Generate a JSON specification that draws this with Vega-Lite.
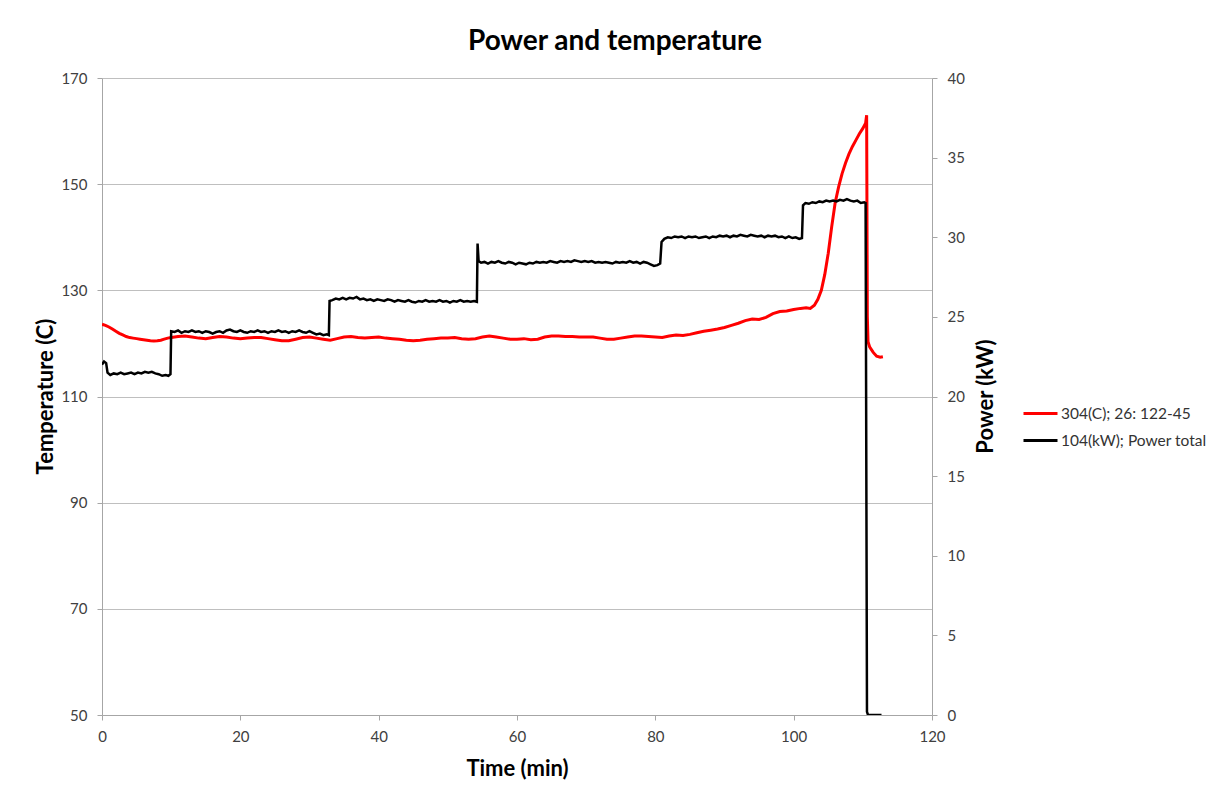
{
  "$schema": "https://vega.github.io/schema/vega-lite/v6.json",
  "width": 830,
  "height": 637,
  "autosize": {"type": "none"},
  "padding": {"left": 102, "top": 78, "right": 285, "bottom": 76},
  "background": "white",
  "config": {
    "view": {"stroke": null},
    "font": "Lato",
    "axis": {"labelFont": "Lato", "titleFont": "Lato", "labelFlush": false},
    "legend": {"labelFont": "Lato"}
  },
  "title": {
    "text": "Power and temperature",
    "font": "Lato",
    "fontSize": 28,
    "fontWeight": "bold",
    "color": "#000000",
    "anchor": "middle",
    "dx": 98,
    "offset": 15
  },
  "datasets": {
    "temp": [
      {"t": 0, "v": 123.6}, {"t": 0.5, "v": 123.4}, {"t": 1, "v": 123.1}, {"t": 1.5, "v": 122.7}, {"t": 2, "v": 122.3},
      {"t": 2.5, "v": 121.9}, {"t": 3, "v": 121.6}, {"t": 3.5, "v": 121.3}, {"t": 4, "v": 121.1}, {"t": 4.5, "v": 121.0},
      {"t": 5, "v": 120.9}, {"t": 5.5, "v": 120.8}, {"t": 6, "v": 120.7}, {"t": 6.5, "v": 120.6}, {"t": 7, "v": 120.5},
      {"t": 7.5, "v": 120.45}, {"t": 8, "v": 120.5}, {"t": 8.5, "v": 120.6}, {"t": 9, "v": 120.8}, {"t": 9.5, "v": 121.0},
      {"t": 10, "v": 121.1}, {"t": 11, "v": 121.3}, {"t": 12, "v": 121.4}, {"t": 13, "v": 121.2}, {"t": 14, "v": 121.0},
      {"t": 15, "v": 120.9}, {"t": 16, "v": 121.1}, {"t": 17, "v": 121.3}, {"t": 18, "v": 121.2}, {"t": 19, "v": 121.0},
      {"t": 20, "v": 120.9}, {"t": 21, "v": 121.0}, {"t": 22, "v": 121.1}, {"t": 23, "v": 121.1}, {"t": 24, "v": 120.9},
      {"t": 25, "v": 120.7}, {"t": 26, "v": 120.5}, {"t": 27, "v": 120.5}, {"t": 28, "v": 120.8}, {"t": 29, "v": 121.1},
      {"t": 30, "v": 121.2}, {"t": 31, "v": 121.0}, {"t": 32, "v": 120.8}, {"t": 33, "v": 120.6}, {"t": 34, "v": 120.9},
      {"t": 35, "v": 121.2}, {"t": 36, "v": 121.3}, {"t": 37, "v": 121.1}, {"t": 38, "v": 121.0}, {"t": 39, "v": 121.1},
      {"t": 40, "v": 121.2}, {"t": 41, "v": 121.0}, {"t": 42, "v": 120.9}, {"t": 43, "v": 120.8}, {"t": 44, "v": 120.6},
      {"t": 45, "v": 120.5}, {"t": 46, "v": 120.6}, {"t": 47, "v": 120.8}, {"t": 48, "v": 120.9}, {"t": 49, "v": 121.0},
      {"t": 50, "v": 121.0}, {"t": 51, "v": 121.1}, {"t": 52, "v": 120.9}, {"t": 53, "v": 120.8}, {"t": 54, "v": 120.9},
      {"t": 55, "v": 121.2}, {"t": 56, "v": 121.4}, {"t": 57, "v": 121.2}, {"t": 58, "v": 121.0}, {"t": 59, "v": 120.8},
      {"t": 60, "v": 120.8}, {"t": 61, "v": 120.9}, {"t": 62, "v": 120.7}, {"t": 63, "v": 120.8}, {"t": 64, "v": 121.2},
      {"t": 65, "v": 121.4}, {"t": 66, "v": 121.4}, {"t": 67, "v": 121.3}, {"t": 68, "v": 121.3}, {"t": 69, "v": 121.2},
      {"t": 70, "v": 121.2}, {"t": 71, "v": 121.2}, {"t": 72, "v": 121.0}, {"t": 73, "v": 120.8}, {"t": 74, "v": 120.8},
      {"t": 75, "v": 121.0}, {"t": 76, "v": 121.2}, {"t": 77, "v": 121.4}, {"t": 78, "v": 121.4}, {"t": 79, "v": 121.3},
      {"t": 80, "v": 121.2}, {"t": 81, "v": 121.1}, {"t": 82, "v": 121.4}, {"t": 83, "v": 121.6}, {"t": 84, "v": 121.5},
      {"t": 85, "v": 121.7}, {"t": 86, "v": 122.0}, {"t": 87, "v": 122.3}, {"t": 88, "v": 122.5}, {"t": 89, "v": 122.7},
      {"t": 90, "v": 123.0}, {"t": 91, "v": 123.4}, {"t": 92, "v": 123.8}, {"t": 93, "v": 124.3}, {"t": 94, "v": 124.6},
      {"t": 95, "v": 124.5}, {"t": 96, "v": 124.9}, {"t": 97, "v": 125.6}, {"t": 98, "v": 126.0}, {"t": 99, "v": 126.1},
      {"t": 100, "v": 126.4}, {"t": 101, "v": 126.6}, {"t": 101.8, "v": 126.7}, {"t": 102.4, "v": 126.6}, {"t": 103, "v": 127.2},
      {"t": 103.5, "v": 128.3}, {"t": 104, "v": 130.0}, {"t": 104.5, "v": 133.0}, {"t": 105, "v": 137.0}, {"t": 105.5, "v": 142.0},
      {"t": 106, "v": 146.5}, {"t": 106.5, "v": 149.5}, {"t": 107, "v": 152.0}, {"t": 107.5, "v": 154.0}, {"t": 108, "v": 155.7},
      {"t": 108.5, "v": 157.1}, {"t": 109, "v": 158.3}, {"t": 109.5, "v": 159.5}, {"t": 110, "v": 160.5}, {"t": 110.4, "v": 161.5},
      {"t": 110.55, "v": 163.0}, {"t": 110.65, "v": 125.0}, {"t": 110.75, "v": 120.3}, {"t": 111, "v": 119.3}, {"t": 111.5, "v": 118.3},
      {"t": 112, "v": 117.6}, {"t": 112.5, "v": 117.4}, {"t": 112.9, "v": 117.5}
    ],
    "power": [
      {"t": 0, "v": 22.0}, {"t": 0.3, "v": 22.2}, {"t": 0.6, "v": 22.1}, {"t": 0.8, "v": 21.5}, {"t": 1.2, "v": 21.35},
      {"t": 1.7, "v": 21.45}, {"t": 2.2, "v": 21.4}, {"t": 2.7, "v": 21.5}, {"t": 3.2, "v": 21.4}, {"t": 3.7, "v": 21.45},
      {"t": 4.2, "v": 21.5}, {"t": 4.7, "v": 21.4}, {"t": 5.2, "v": 21.5}, {"t": 5.7, "v": 21.45}, {"t": 6.2, "v": 21.55},
      {"t": 6.7, "v": 21.5}, {"t": 7.2, "v": 21.55}, {"t": 7.7, "v": 21.45}, {"t": 8.2, "v": 21.4}, {"t": 8.7, "v": 21.3},
      {"t": 9.2, "v": 21.35}, {"t": 9.6, "v": 21.3}, {"t": 9.9, "v": 21.4}, {"t": 10.0, "v": 24.1}, {"t": 10.5, "v": 24.05},
      {"t": 11, "v": 24.15}, {"t": 11.5, "v": 24.0}, {"t": 12, "v": 24.1}, {"t": 12.5, "v": 24.05}, {"t": 13, "v": 24.15},
      {"t": 13.5, "v": 24.05}, {"t": 14, "v": 24.1}, {"t": 14.5, "v": 24.0}, {"t": 15, "v": 24.1}, {"t": 15.5, "v": 24.05},
      {"t": 16, "v": 23.95}, {"t": 16.5, "v": 24.05}, {"t": 17, "v": 24.1}, {"t": 17.5, "v": 24.0}, {"t": 18, "v": 24.15},
      {"t": 18.5, "v": 24.2}, {"t": 19, "v": 24.1}, {"t": 19.5, "v": 24.05}, {"t": 20, "v": 24.15}, {"t": 20.5, "v": 24.05},
      {"t": 21, "v": 24.0}, {"t": 21.5, "v": 24.1}, {"t": 22, "v": 24.05}, {"t": 22.5, "v": 24.15}, {"t": 23, "v": 24.05},
      {"t": 23.5, "v": 24.1}, {"t": 24, "v": 24.0}, {"t": 24.5, "v": 24.1}, {"t": 25, "v": 24.05}, {"t": 25.5, "v": 24.15},
      {"t": 26, "v": 24.05}, {"t": 26.5, "v": 24.1}, {"t": 27, "v": 24.0}, {"t": 27.5, "v": 24.1}, {"t": 28, "v": 24.05},
      {"t": 28.5, "v": 24.15}, {"t": 29, "v": 24.05}, {"t": 29.5, "v": 24.0}, {"t": 30, "v": 24.1}, {"t": 30.5, "v": 24.0},
      {"t": 31, "v": 23.9}, {"t": 31.5, "v": 23.95}, {"t": 32, "v": 23.85}, {"t": 32.5, "v": 23.9}, {"t": 32.8, "v": 23.85},
      {"t": 32.9, "v": 26.0}, {"t": 33.3, "v": 26.05}, {"t": 33.8, "v": 26.15}, {"t": 34.3, "v": 26.1}, {"t": 34.8, "v": 26.2},
      {"t": 35.3, "v": 26.1}, {"t": 35.8, "v": 26.2}, {"t": 36.3, "v": 26.15}, {"t": 36.8, "v": 26.25}, {"t": 37.3, "v": 26.1},
      {"t": 37.8, "v": 26.15}, {"t": 38.3, "v": 26.05}, {"t": 38.8, "v": 26.1}, {"t": 39.3, "v": 26.0}, {"t": 39.8, "v": 26.1},
      {"t": 40.3, "v": 26.05}, {"t": 40.8, "v": 26.0}, {"t": 41.3, "v": 26.1}, {"t": 41.8, "v": 26.05}, {"t": 42.3, "v": 25.95},
      {"t": 42.8, "v": 26.05}, {"t": 43.3, "v": 26.0}, {"t": 43.8, "v": 25.95}, {"t": 44.3, "v": 26.05}, {"t": 44.8, "v": 25.95},
      {"t": 45.3, "v": 25.9}, {"t": 45.8, "v": 26.0}, {"t": 46.3, "v": 25.95}, {"t": 46.8, "v": 26.05}, {"t": 47.3, "v": 25.95},
      {"t": 47.8, "v": 26.0}, {"t": 48.3, "v": 25.95}, {"t": 48.8, "v": 26.05}, {"t": 49.3, "v": 25.95}, {"t": 49.8, "v": 26.0},
      {"t": 50.3, "v": 25.9}, {"t": 50.8, "v": 26.0}, {"t": 51.3, "v": 25.95}, {"t": 51.8, "v": 26.05}, {"t": 52.3, "v": 25.95},
      {"t": 52.8, "v": 26.0}, {"t": 53.3, "v": 25.95}, {"t": 53.8, "v": 26.0}, {"t": 54.2, "v": 25.95}, {"t": 54.3, "v": 29.6},
      {"t": 54.45, "v": 28.5}, {"t": 54.8, "v": 28.4}, {"t": 55.3, "v": 28.45}, {"t": 55.8, "v": 28.35}, {"t": 56.3, "v": 28.45},
      {"t": 56.8, "v": 28.4}, {"t": 57.3, "v": 28.5}, {"t": 57.8, "v": 28.4}, {"t": 58.3, "v": 28.35}, {"t": 58.8, "v": 28.45},
      {"t": 59.3, "v": 28.4}, {"t": 59.8, "v": 28.3}, {"t": 60.3, "v": 28.4}, {"t": 60.8, "v": 28.35}, {"t": 61.3, "v": 28.3},
      {"t": 61.8, "v": 28.4}, {"t": 62.3, "v": 28.35}, {"t": 62.8, "v": 28.45}, {"t": 63.3, "v": 28.4}, {"t": 63.8, "v": 28.45},
      {"t": 64.3, "v": 28.4}, {"t": 64.8, "v": 28.5}, {"t": 65.3, "v": 28.45}, {"t": 65.8, "v": 28.4}, {"t": 66.3, "v": 28.5},
      {"t": 66.8, "v": 28.45}, {"t": 67.3, "v": 28.5}, {"t": 67.8, "v": 28.45}, {"t": 68.3, "v": 28.55}, {"t": 68.8, "v": 28.5},
      {"t": 69.3, "v": 28.45}, {"t": 69.8, "v": 28.5}, {"t": 70.3, "v": 28.45}, {"t": 70.8, "v": 28.5}, {"t": 71.3, "v": 28.4},
      {"t": 71.8, "v": 28.45}, {"t": 72.3, "v": 28.4}, {"t": 72.8, "v": 28.45}, {"t": 73.3, "v": 28.4}, {"t": 73.8, "v": 28.35},
      {"t": 74.3, "v": 28.45}, {"t": 74.8, "v": 28.4}, {"t": 75.3, "v": 28.45}, {"t": 75.8, "v": 28.4}, {"t": 76.3, "v": 28.5},
      {"t": 76.8, "v": 28.4}, {"t": 77.3, "v": 28.45}, {"t": 77.8, "v": 28.35}, {"t": 78.3, "v": 28.45}, {"t": 78.8, "v": 28.4},
      {"t": 79.3, "v": 28.3}, {"t": 79.8, "v": 28.2}, {"t": 80.3, "v": 28.25}, {"t": 80.7, "v": 28.35}, {"t": 80.9, "v": 29.7},
      {"t": 81.3, "v": 29.9}, {"t": 81.8, "v": 30.0}, {"t": 82.3, "v": 29.95}, {"t": 82.8, "v": 30.05}, {"t": 83.3, "v": 30.0},
      {"t": 83.8, "v": 30.05}, {"t": 84.3, "v": 29.95}, {"t": 84.8, "v": 30.05}, {"t": 85.3, "v": 30.0}, {"t": 85.8, "v": 30.05},
      {"t": 86.3, "v": 29.95}, {"t": 86.8, "v": 30.0}, {"t": 87.3, "v": 30.05}, {"t": 87.8, "v": 29.95}, {"t": 88.3, "v": 30.05},
      {"t": 88.8, "v": 30.0}, {"t": 89.3, "v": 30.1}, {"t": 89.8, "v": 30.05}, {"t": 90.3, "v": 30.1}, {"t": 90.8, "v": 30.0},
      {"t": 91.3, "v": 30.1}, {"t": 91.8, "v": 30.05}, {"t": 92.3, "v": 30.15}, {"t": 92.8, "v": 30.1}, {"t": 93.3, "v": 30.05},
      {"t": 93.8, "v": 30.15}, {"t": 94.3, "v": 30.1}, {"t": 94.8, "v": 30.05}, {"t": 95.3, "v": 30.1}, {"t": 95.8, "v": 30.0},
      {"t": 96.3, "v": 30.1}, {"t": 96.8, "v": 30.05}, {"t": 97.3, "v": 30.1}, {"t": 97.8, "v": 30.0}, {"t": 98.3, "v": 30.05},
      {"t": 98.8, "v": 29.95}, {"t": 99.3, "v": 30.05}, {"t": 99.8, "v": 29.95}, {"t": 100.3, "v": 30.0}, {"t": 100.8, "v": 29.9},
      {"t": 101.2, "v": 29.95}, {"t": 101.35, "v": 32.0}, {"t": 101.7, "v": 32.15}, {"t": 102.2, "v": 32.1}, {"t": 102.7, "v": 32.2},
      {"t": 103.2, "v": 32.15}, {"t": 103.7, "v": 32.25}, {"t": 104.2, "v": 32.2}, {"t": 104.7, "v": 32.3}, {"t": 105.2, "v": 32.25},
      {"t": 105.7, "v": 32.3}, {"t": 106.2, "v": 32.25}, {"t": 106.7, "v": 32.35}, {"t": 107.2, "v": 32.3}, {"t": 107.7, "v": 32.4},
      {"t": 108.2, "v": 32.3}, {"t": 108.7, "v": 32.25}, {"t": 109.2, "v": 32.3}, {"t": 109.7, "v": 32.15}, {"t": 110.2, "v": 32.2},
      {"t": 110.4, "v": 32.15}, {"t": 110.6, "v": 0.2}, {"t": 110.75, "v": 0}, {"t": 112.7, "v": 0}
    ]
  },
  "layer": [
    {
      "data": {"name": "temp"},
      "mark": {"type": "line", "strokeWidth": 3, "clip": true},
      "encoding": {
        "x": {
          "field": "t", "type": "quantitative",
          "scale": {"domain": [0, 120], "nice": false, "zero": false},
          "axis": {
            "values": [0, 20, 40, 60, 80, 100, 120],
            "grid": false,
            "domainColor": "#a6a6a6", "tickColor": "#a6a6a6", "tickSize": 5,
            "labelPadding": 9, "labelFontSize": 15, "labelColor": "#404040",
            "title": "Time (min)", "titleFontSize": 22, "titleFontWeight": "bold", "titleColor": "#000000",
            "titleX": 415, "titleY": 53, "titleBaseline": "middle", "titleAlign": "center"
          }
        },
        "y": {
          "field": "v", "type": "quantitative",
          "scale": {"domain": [50, 170], "nice": false, "zero": false},
          "axis": {
            "values": [50, 70, 90, 110, 130, 150, 170],
            "grid": true, "gridColor": "#bfbfbf",
            "domainColor": "#a6a6a6", "tickColor": "#a6a6a6", "tickSize": 5,
            "labelPadding": 10, "labelFontSize": 15, "labelColor": "#404040",
            "title": "Temperature (C)", "titleFontSize": 22, "titleFontWeight": "bold", "titleColor": "#000000",
            "titleX": -57, "titleY": 318, "titleAngle": -90, "titleBaseline": "middle", "titleAlign": "center"
          }
        },
        "color": {
          "datum": "304(C); 26: 122-45",
          "type": "nominal",
          "scale": {"domain": ["304(C); 26: 122-45", "104(kW); Power total"], "range": ["#ff0000", "#000000"]},
          "legend": {
            "orient": "none", "legendX": 920, "legendY": 317, "title": null,
            "symbolType": "stroke", "symbolSize": 1156, "symbolStrokeWidth": 3,
            "labelFontSize": 15.5, "labelColor": "#333333", "labelOffset": 2, "rowPadding": -6
          }
        }
      }
    },
    {
      "data": {"name": "power"},
      "mark": {"type": "line", "strokeWidth": 2.5, "clip": true},
      "encoding": {
        "x": {"field": "t", "type": "quantitative"},
        "y": {
          "field": "v", "type": "quantitative",
          "scale": {"domain": [0, 40], "nice": false, "zero": false},
          "axis": {
            "orient": "right",
            "values": [0, 5, 10, 15, 20, 25, 30, 35, 40],
            "grid": false,
            "domainColor": "#a6a6a6", "tickColor": "#a6a6a6", "tickSize": 5,
            "labelPadding": 10, "labelFontSize": 15, "labelColor": "#404040",
            "title": "Power (kW)", "titleFontSize": 22, "titleFontWeight": "bold", "titleColor": "#000000",
            "titleX": 53, "titleY": 318, "titleAngle": -90, "titleBaseline": "middle", "titleAlign": "center"
          }
        },
        "color": {"datum": "104(kW); Power total", "type": "nominal"}
      }
    }
  ],
  "resolve": {"scale": {"y": "independent"}}
}
